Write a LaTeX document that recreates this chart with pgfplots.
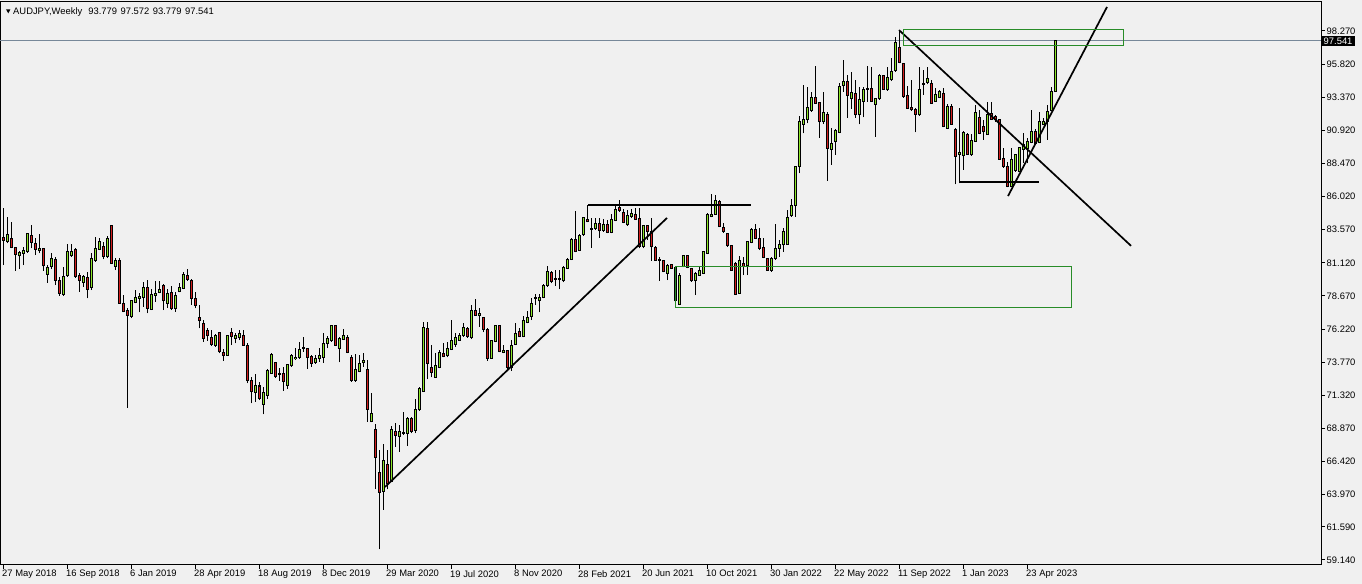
\documentclass[border=0pt]{standalone}
\usepackage{fontspec}
\setmainfont{Liberation Sans}
\usepackage{pgfplots}
\pgfplotsset{compat=1.18}
\usepackage{pgfplotstable}
\usetikzlibrary{backgrounds}
\definecolor{bg}{RGB}{240,240,240}
\definecolor{bull}{RGB}{140,230,40}
\definecolor{bear}{RGB}{210,30,30}
\definecolor{rectg}{RGB}{40,140,40}
\definecolor{slate}{RGB}{119,136,153}

\pgfplotstableread{
i o h l c
0 82.98 85.15 80.96 82.79
1 82.69 84.54 82.56 83.18
2 82.93 84.12 82.19 82.24
3 82.27 82.32 80.54 81.75
4 81.63 82.02 80.64 81.90
5 81.82 82.32 80.96 82.00
6 81.95 83.35 81.87 83.30
7 83.15 83.92 82.19 82.61
8 82.56 82.93 81.70 82.12
9 82.02 83.25 81.82 82.19
10 82.19 82.19 80.54 80.89
11 80.29 80.96 79.65 80.79
12 80.84 81.82 80.64 81.45
13 81.38 81.58 79.48 79.83
14 79.83 80.10 78.67 78.86
15 78.81 80.79 78.67 80.10
16 80.15 82.51 80.10 81.97
17 81.63 82.51 81.58 81.97
18 82.12 82.19 80.02 80.10
19 80.20 80.34 78.99 79.80
20 79.68 80.22 79.36 80.10
21 80.02 80.47 78.49 79.16
22 79.31 81.87 79.11 81.45
23 81.33 83.01 81.21 82.19
24 82.14 82.93 82.07 82.69
25 82.32 82.69 81.38 81.58
26 81.58 83.11 81.45 82.93
27 83.85 83.85 81.03 81.08
28 80.84 81.45 80.59 81.28
29 81.26 81.45 78.08 78.12
30 78.08 78.74 77.46 77.51
31 77.63 77.75 70.41 77.26
32 77.14 78.37 77.02 78.30
33 78.20 79.11 78.12 78.57
34 78.49 78.86 77.46 78.62
35 78.57 79.73 77.88 79.31
36 79.31 79.85 77.39 77.75
37 77.68 79.18 77.63 78.79
38 78.72 79.78 78.25 78.86
39 78.91 79.78 78.86 79.18
40 79.48 79.53 77.63 78.30
41 78.12 79.18 77.80 78.86
42 78.94 79.41 77.63 77.71
43 77.75 78.94 77.51 78.67
44 78.99 79.60 78.94 79.31
45 79.23 80.47 79.18 80.29
46 80.22 80.66 79.80 79.92
47 79.85 79.92 78.00 78.49
48 78.45 78.94 77.75 77.95
49 77.06 78.00 76.28 76.84
50 76.65 76.89 75.29 75.54
51 76.08 76.28 75.34 75.71
52 75.61 76.15 74.99 75.09
53 74.99 75.86 74.92 75.71
54 75.95 76.03 74.43 74.55
55 74.50 74.75 73.88 74.25
56 74.30 75.81 74.23 75.76
57 75.98 76.28 75.04 75.66
58 75.51 75.91 75.17 75.71
59 75.59 76.15 75.41 75.86
60 75.76 76.15 74.97 75.04
61 74.97 75.17 72.21 72.40
62 72.38 72.65 70.73 71.59
63 71.52 72.90 70.85 72.08
64 72.01 72.33 70.97 71.07
65 70.65 71.96 69.91 71.54
66 71.32 73.27 71.07 73.19
67 72.95 74.43 72.90 74.35
68 73.76 73.81 72.63 72.70
69 72.95 73.37 72.40 72.85
70 72.95 73.39 71.67 72.33
71 72.03 73.66 71.81 73.61
72 73.49 74.35 73.42 74.28
73 74.01 74.80 73.93 74.13
74 74.11 75.27 74.01 74.72
75 74.77 75.63 74.55 74.87
76 74.80 74.85 73.29 74.11
77 74.16 74.30 73.44 73.69
78 73.74 74.28 73.64 74.01
79 74.01 74.80 73.81 74.30
80 74.13 75.96 73.74 75.17
81 75.17 75.73 74.80 75.49
82 75.34 76.52 75.29 76.45
83 76.45 76.52 74.97 75.04
84 74.80 75.66 73.76 75.54
85 75.46 76.20 75.41 75.71
86 75.61 75.78 74.43 74.50
87 74.13 74.30 72.33 72.41
88 72.41 74.38 72.33 73.24
89 73.07 74.30 73.02 73.64
90 73.74 74.43 73.44 73.91
91 73.24 73.93 69.35 70.29
92 69.37 71.47 69.32 69.99
93 68.81 69.18 64.37 66.73
94 65.62 67.28 59.93 64.15
95 64.22 67.70 62.84 66.51
96 66.22 67.28 64.37 64.81
97 64.93 69.05 64.88 68.76
98 68.68 69.25 67.52 68.34
99 68.31 69.10 67.15 68.66
100 68.51 70.11 68.39 68.58
101 68.51 69.74 67.57 69.64
102 69.57 69.74 68.51 68.63
103 68.71 71.05 68.51 70.29
104 70.24 71.96 70.19 71.84
105 71.64 76.77 71.59 76.35
106 76.28 76.72 72.50 73.69
107 73.39 75.04 72.65 73.02
108 72.65 74.43 72.63 73.52
109 73.39 74.70 73.32 74.50
110 74.43 75.17 74.13 74.18
111 74.23 75.24 74.13 74.80
112 74.72 76.89 74.67 75.36
113 75.07 75.96 74.92 75.61
114 75.41 75.91 75.36 75.78
115 75.73 76.65 75.66 76.35
116 76.28 76.40 75.59 75.66
117 75.59 78.00 75.46 77.56
118 77.56 78.45 77.21 77.26
119 77.21 77.76 76.40 77.34
120 77.09 77.14 75.98 76.20
121 76.20 76.28 73.88 74.06
122 74.06 75.41 74.01 75.41
123 75.29 76.52 75.24 76.47
124 76.45 76.52 74.50 74.55
125 74.50 75.04 74.43 74.67
126 74.60 74.67 73.19 73.39
127 73.39 75.41 73.15 74.97
128 75.09 76.70 75.04 75.91
129 76.01 76.28 75.61 75.66
130 75.66 77.19 75.61 76.82
131 76.72 77.56 76.65 77.09
132 77.14 78.50 76.89 78.12
133 78.47 78.79 78.00 78.57
134 78.30 78.79 77.46 78.57
135 78.57 79.53 78.50 79.43
136 79.43 80.91 79.36 80.47
137 80.39 80.52 79.60 79.73
138 79.90 80.59 79.43 79.98
139 79.90 80.59 79.16 79.98
140 79.78 80.89 79.68 80.81
141 80.71 81.45 80.66 81.40
142 81.40 82.93 81.33 82.86
143 82.88 84.96 81.90 81.95
144 82.07 83.23 81.99 83.13
145 83.23 84.54 83.13 84.46
146 84.36 85.40 84.12 84.17
147 83.67 84.41 82.24 83.62
148 83.67 84.41 83.55 84.04
149 84.04 84.41 82.98 83.48
150 83.50 84.36 83.43 83.97
151 83.97 84.29 83.30 83.38
152 83.38 84.71 83.30 84.29
153 84.24 85.40 84.19 85.10
154 85.23 85.77 84.91 85.00
155 84.86 85.08 84.04 84.12
156 83.92 85.03 83.87 84.61
157 84.54 85.10 84.41 84.78
158 84.66 85.15 84.29 84.36
159 84.41 85.15 82.19 82.32
160 82.32 83.92 82.19 83.87
161 83.85 83.92 82.81 83.43
162 83.43 84.46 81.26 82.32
163 82.29 82.37 81.26 81.33
164 81.38 81.58 79.78 81.31
165 81.28 81.33 80.42 80.47
166 80.34 81.04 79.85 80.91
167 81.01 81.04 80.66 80.71
168 80.76 80.84 78.25 78.30
169 78.05 80.34 78.00 80.22
170 80.84 81.70 80.79 81.65
171 81.65 81.70 80.71 80.79
172 80.71 80.76 79.73 79.78
173 79.78 80.42 78.74 80.34
174 80.22 80.84 80.17 80.52
175 80.34 82.02 80.29 81.95
176 81.82 84.78 81.77 84.71
177 84.54 86.21 84.49 84.71
178 84.71 86.14 84.66 85.70
179 85.65 85.77 83.75 83.80
180 83.75 84.04 83.35 83.43
181 83.30 83.35 82.32 82.39
182 82.37 82.44 80.52 80.59
183 81.08 81.16 78.74 78.79
184 78.86 81.65 78.81 81.26
185 81.08 81.58 80.22 80.84
186 80.89 82.74 80.22 82.69
187 82.64 83.67 82.56 83.55
188 83.55 83.97 82.89 82.93
189 82.93 83.67 82.07 82.19
190 82.27 82.93 81.45 81.53
191 81.45 81.45 80.54 80.59
192 80.59 81.58 80.47 81.45
193 81.45 83.99 81.33 82.19
194 82.19 82.81 81.58 82.44
195 82.44 83.67 81.95 83.43
196 82.49 85.03 82.44 84.49
197 84.59 85.82 84.54 85.33
198 85.35 88.28 84.54 88.24
199 88.24 91.98 87.74 91.61
200 91.37 94.27 90.70 91.69
201 91.69 94.10 91.44 92.62
202 92.38 93.78 92.30 93.36
203 93.36 95.68 92.87 92.92
204 92.99 93.04 90.38 91.56
205 91.56 93.78 91.39 92.25
206 92.11 92.25 87.20 89.59
207 89.52 91.07 88.36 89.96
208 90.08 91.00 89.10 90.90
209 90.77 94.45 90.70 94.20
210 94.23 96.13 93.78 94.52
211 94.52 95.02 91.86 93.49
212 93.24 95.21 92.50 93.73
213 93.66 94.65 91.86 92.06
214 92.06 94.15 91.37 93.22
215 93.04 94.15 91.88 93.96
216 93.96 95.68 93.04 94.03
217 94.03 95.63 93.04 93.09
218 92.84 93.29 90.45 93.24
219 93.24 95.09 93.17 95.01
220 95.01 95.01 93.91 93.96
221 93.91 95.63 93.86 94.82
222 94.65 96.25 94.57 95.31
223 95.34 97.85 95.26 97.43
224 97.06 98.34 95.88 95.95
225 95.88 95.93 93.34 93.41
226 93.49 94.20 92.50 92.55
227 92.60 94.65 92.35 92.43
228 92.43 92.55 90.77 92.11
229 92.06 95.63 92.01 93.96
230 94.33 95.39 93.54 94.40
231 94.47 95.63 94.33 94.77
232 94.40 94.65 92.87 92.92
233 93.09 94.08 93.04 93.59
234 93.36 93.91 93.29 93.78
235 93.61 94.03 91.14 91.19
236 91.07 92.85 91.02 92.72
237 92.67 92.85 91.32 91.37
238 91.02 91.07 86.93 89.02
239 89.15 92.55 87.00 89.29
240 89.05 90.87 87.99 90.77
241 90.63 90.70 89.10 89.15
242 89.10 90.63 89.05 90.16
243 90.13 92.80 90.08 92.25
244 91.88 92.43 90.63 90.70
245 91.19 91.69 90.21 90.82
246 90.65 93.04 90.58 92.13
247 92.18 92.99 91.69 91.76
248 91.93 92.06 91.56 91.74
249 91.74 91.74 88.73 88.78
250 88.85 89.59 88.16 88.23
251 88.23 88.60 86.71 86.76
252 86.76 89.59 86.71 88.73
253 87.94 89.10 87.86 89.10
254 87.86 89.71 87.81 89.64
255 89.54 90.70 88.53 89.89
256 89.59 90.33 88.48 90.08
257 90.03 92.43 89.96 90.87
258 90.87 90.99 89.91 89.96
259 90.03 92.25 89.96 91.56
260 91.37 91.81 91.32 91.56
261 91.56 92.80 90.21 92.35
262 92.38 94.15 92.35 93.83
263 93.779 97.572 93.779 97.541
}\candles

\pgfplotsset{candlebar/.style 2 args={draw=none, mark=none, forget plot,
  error bars/.cd, y dir=plus, y explicit, error mark=none,
  error bar style={draw=#1, solid, line width=#2}}}

\begin{document}
\begin{tikzpicture}
\begin{axis}[name=ax, scale only axis, width=1321pt, height=563pt,
  xmin=-0.75, xmax=329.5, ymin=58.77, ymax=100.415,
  axis line style={line width=1pt, black},
  xtick={0,16,...,256},
  xticklabels={27 May 2018,16 Sep 2018,6 Jan 2019,28 Apr 2019,18 Aug 2019,8 Dec 2019,29 Mar 2020,19 Jul 2020,8 Nov 2020,28 Feb 2021,20 Jun 2021,10 Oct 2021,30 Jan 2022,22 May 2022,11 Sep 2022,1 Jan 2023,23 Apr 2023},
  ytick={98.27,95.82,93.37,90.92,88.47,86.02,83.57,81.12,78.67,76.22,73.77,71.32,68.87,66.42,63.97,61.59,59.14},
  yticklabels={98.270,95.820,93.370,90.920,88.470,86.020,83.570,81.120,78.670,76.220,73.770,71.320,68.870,66.420,63.970,61.590,59.140},
  ytick pos=right, xtick pos=bottom, yticklabel pos=right,
  tick align=outside, major tick length=4pt,
  tick style={black, line width=1pt},
  tick label style={font=\fontsize{9.4}{11}\selectfont},
  xticklabel style={anchor=north west, inner sep=0pt, xshift=-1pt, yshift=-1pt},
  yticklabel style={anchor=west, inner sep=0pt, xshift=1.5pt},
  clip=true,
]
\addplot[slate, line width=1pt, forget plot] coordinates {(-1,97.541) (330,97.541)};
% wicks
\addplot[candlebar={black}{1pt}]
  table[x=i, y=l, y error plus expr={\thisrow{h}-\thisrow{l}}] {\candles};
% body outlines
\addplot[candlebar={black}{3pt}]
  table[x=i, y expr={min(\thisrow{o},\thisrow{c})-0.037}, y error plus expr={abs(\thisrow{c}-\thisrow{o})+0.074}] {\candles};
% bull interiors
\addplot[candlebar={bull}{1pt}]
  table[x=i, y expr={(\thisrow{c}-\thisrow{o}>0.1) ? \thisrow{o}+0.037 : nan}, y error plus expr={\thisrow{c}-\thisrow{o}-0.074}] {\candles};
% bear interiors
\addplot[candlebar={bear}{1pt}]
  table[x=i, y expr={(\thisrow{o}-\thisrow{c}>0.1) ? \thisrow{c}+0.037 : nan}, y error plus expr={\thisrow{o}-\thisrow{c}-0.074}] {\candles};
% drawn objects
\addplot[black, line width=1.7pt, forget plot] coordinates {(95.5,64.54) (166,84.44)};
\addplot[black, line width=2pt, forget plot] coordinates {(146.25,85.42) (187,85.42)};
\addplot[black, line width=1.7pt, forget plot] coordinates {(224,98.34) (282,82.38)};
\addplot[black, line width=2pt, forget plot] coordinates {(239,87.08) (259.1,87.08)};
\addplot[black, line width=1.7pt, forget plot] coordinates {(251.25,86.06) (276,100.05)};
\addplot[rectg, line width=1pt, forget plot] coordinates {(225,98.40) (280,98.40) (280,97.21) (225,97.21) (225,98.40)};
\addplot[rectg, line width=1pt, forget plot] coordinates {(168.1,80.85) (267,80.85) (267,77.78) (168.1,77.78) (168.1,80.85)};
\coordinate (pl) at (axis cs:329.5,97.541);
\end{axis}
\node[anchor=west, fill=black, text=white, inner xsep=2.5pt, inner ysep=1.5pt, font=\fontsize{9.4}{11}\selectfont] at ([xshift=0pt]pl) {97.541};
\fill[black] ([xshift=6pt,yshift=-7.3pt]ax.north west) -- ++(4.5pt,0) -- ++(-2.25pt,-4pt) -- cycle;
\node[anchor=base west, inner sep=0pt, font=\fontsize{9.4}{11}\selectfont] at ([xshift=13pt,yshift=-13pt]ax.north west) {AUDJPY,Weekly\hspace{6pt}93.779\hspace{3.5pt}97.572\hspace{3.5pt}93.779\hspace{3.5pt}97.541};
\pgfresetboundingbox
\path[use as bounding box] ([yshift=-19pt]ax.south west) rectangle ([xshift=41pt,yshift=2pt]ax.north east);
\begin{scope}[on background layer]
\fill[bg] ([yshift=-19pt]ax.south west) rectangle ([xshift=41pt,yshift=2pt]ax.north east);
\end{scope}
\end{tikzpicture}
\end{document}
